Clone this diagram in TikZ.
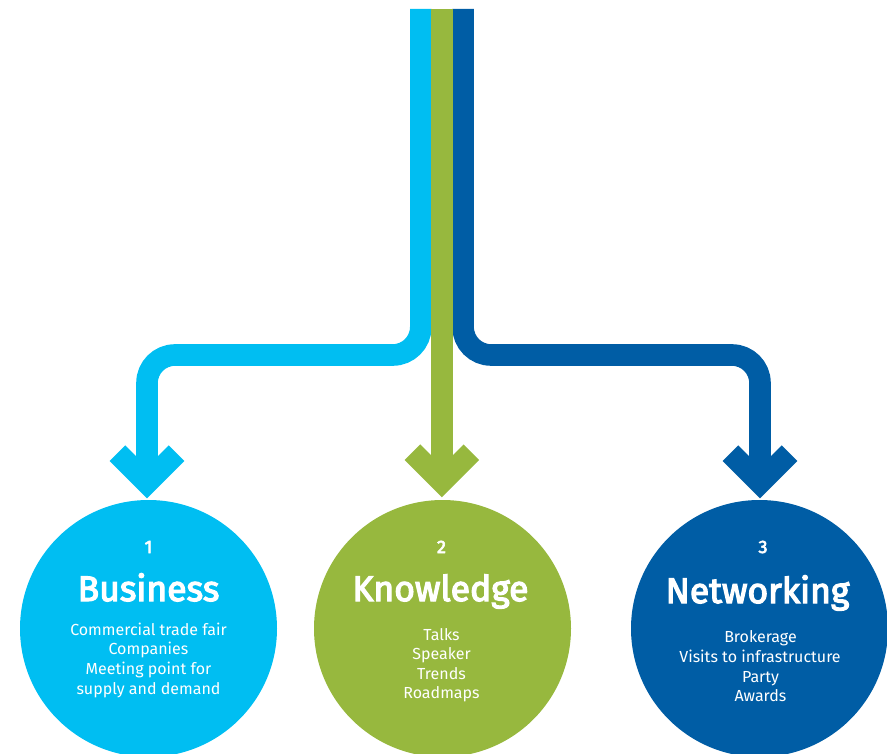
\documentclass[tikz,border=0pt]{standalone}
\usepackage{fontspec}
\setmainfont{Fira Sans}
\newfontfamily\medfont[FakeBold=3.5]{Fira Sans}
\definecolor{cyanc}{RGB}{0,190,242}
\definecolor{greenc}{RGB}{151,184,62}
\definecolor{bluec}{RGB}{0,93,165}
\tikzset{
  band/.style={line width=21.6pt, line cap=butt, rounded corners=28pt},
  chev/.style={line width=22pt, line join=miter, line cap=butt},
  circ/.style={circle, minimum size=257pt, inner sep=0pt, draw=none},
  num/.style={text=white, anchor=base, font=\fontsize{18}{18}\medfont},
  ttl/.style={text=white, anchor=base, font=\fontsize{35.5}{36}\medfont},
  itm/.style={text=white, anchor=base, font=\fontsize{16}{16}\selectfont},
}
\begin{document}
\begin{tikzpicture}[x=1pt,y=-1pt]
\useasboundingbox (0,0) rectangle (887,754);
% circles
\node[circ, fill=cyanc] (bus) at (148.5,628.5) {};
\node[circ, fill=greenc] (kno) at (442.5,628.5) {};
\node[circ, fill=bluec] (net) at (759.5,628.5) {};
% top coordinates
\coordinate (ctop) at (420.8,9);
\coordinate (gtop) at (441.9,9);
\coordinate (btop) at (463.1,9);
\coordinate (cend) at (147,478);
\coordinate (gend) at (441.9,478);
\coordinate (bend) at (760,478);
% bands
\draw[band, cyanc] (ctop) |- (147,355) -- (cend);
\draw[band, bluec] (btop) |- (760,355) -- (bend);
\draw[band, greenc, rounded corners=0pt] (gtop) -- (gend);
% chevrons
\draw[chev, cyanc] (117.5,453.2) -- (147,482.7) -- (176.5,453.2);
\draw[chev, greenc] (412.4,452.2) -- (441.9,481.7) -- (471.4,452.2);
\draw[chev, bluec] (730.5,453.2) -- (760,482.7) -- (789.5,453.2);
% texts
\node[num] (n1) at (148.5,553) {1};
\node[ttl] (t1) at (148.5,601) {Business};
\node[itm] (b1) at (148.5,635) {Commercial trade fair};
\node[itm] (b2) at (148.5,654.5) {Companies};
\node[itm] (b3) at (148.5,674.5) {Meeting point for};
\node[itm] (b4) at (148.5,694) {supply and demand};
\node[num] (n2) at (441.5,553) {2};
\node[ttl] (t2) at (440.5,601) {Knowledge};
\node[itm] (k1) at (441.5,640) {Talks};
\node[itm] (k2) at (441.5,659.5) {Speaker};
\node[itm] (k3) at (441.5,679) {Trends};
\node[itm] (k4) at (441.5,698.5) {Roadmaps};
\node[num] (n3) at (763,553) {3};
\node[ttl] (t3) at (757.5,603) {Networking};
\node[itm] (w1) at (760.5,642) {Brokerage};
\node[itm] (w2) at (760,662) {Visits to infrastructure};
\node[itm] (w3) at (760.5,682) {Party};
\node[itm] (w4) at (760.5,701.5) {Awards};
\end{tikzpicture}
\end{document}
